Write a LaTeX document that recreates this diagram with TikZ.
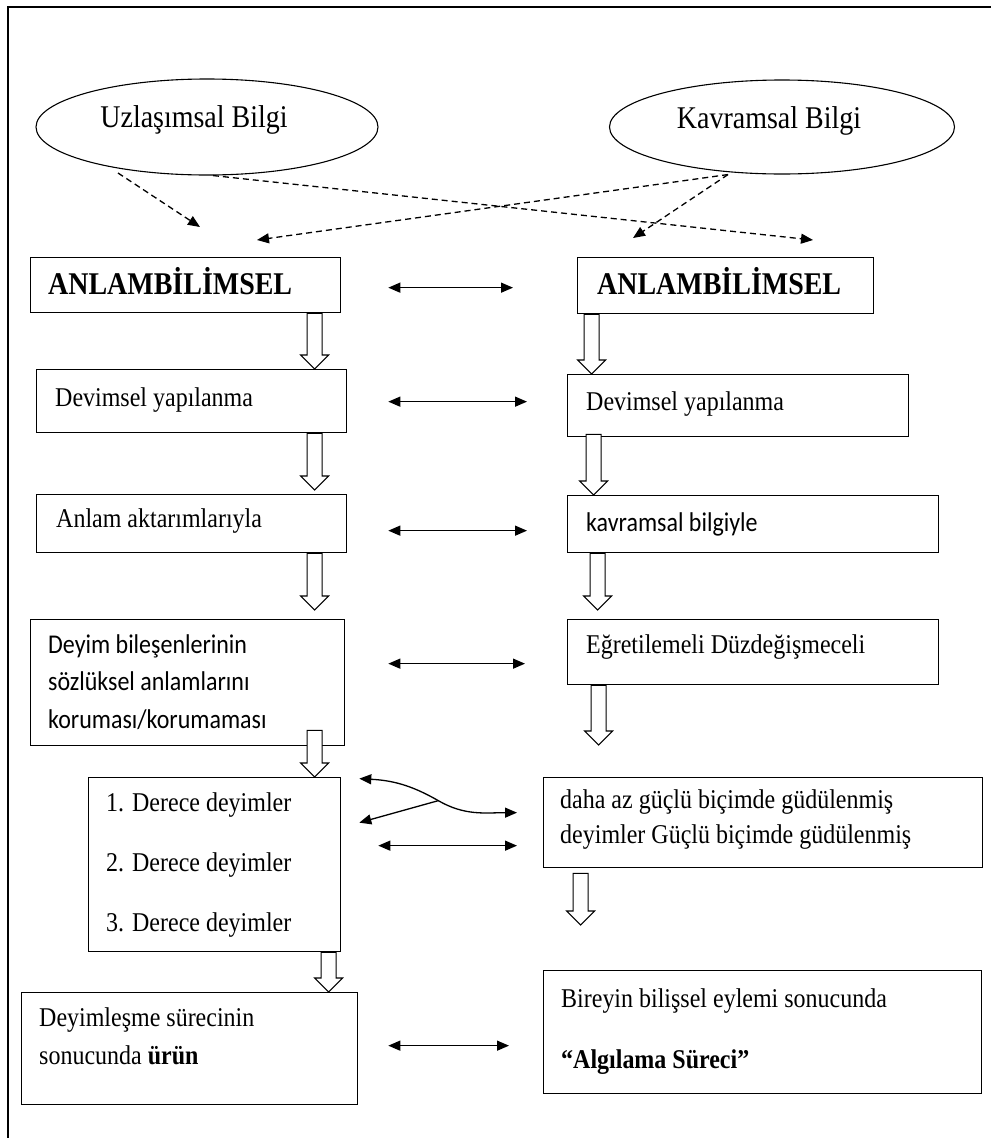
\documentclass[tikz,border=0pt]{standalone}
\usepackage{fontspec}
\setmainfont{Liberation Serif}[FakeStretch=0.885]
\newfontfamily\calib{Carlito}[FakeStretch=0.885]
\usetikzlibrary{shapes.geometric,arrows.meta,calc}
\tikzset{
  box/.style={draw, line width=1.3pt, inner sep=0pt, anchor=north west},
  oval/.style={draw, ellipse, line width=1.1pt, inner sep=0pt},
  txt/.style={anchor=base west, inner sep=0pt, font=\fontsize{27.1}{32}\selectfont},
  stxt/.style={anchor=base west, inner sep=0pt, font=\calib\fontsize{27.1}{32}\selectfont},
  btxt/.style={anchor=base west, inner sep=0pt, font=\bfseries\fontsize{31.6}{36}\selectfont},
  otxt/.style={anchor=base, inner sep=0pt, font=\fontsize{31.6}{36}\selectfont},
  hollowst/.style={draw, fill=white, line width=1.1pt},
  dbl/.style={line width=1.3pt, {Triangle[length=12pt,width=10pt]}-{Triangle[length=12pt,width=10pt]}},
  dsh/.style={line width=1.3pt, dash pattern=on 6pt off 4pt, -{Triangle[length=12pt,width=10pt]}},
  one/.style={line width=1.3pt, -{Triangle[length=12pt,width=10pt]}}
}
\newcommand\hollowarr[2]{\path[hollowst] let \p1=#1, \p2=#2 in
  (\x1-7.5pt,\y1) -- (\x1-7.5pt,\y2+14pt) -- (\x1-14pt,\y2+14pt) -- (\x1,\y2)
  -- (\x1+14pt,\y2+14pt) -- (\x1+7.5pt,\y2+14pt) -- (\x1+7.5pt,\y1) -- cycle;}
\begin{document}
\begin{tikzpicture}[x=1pt,y=-1pt]
\useasboundingbox (0,0) rectangle (991,1138);
\draw[line width=1.5pt] (8,1138) -- (8,7) -- (991,7);

% ellipses
\node[oval, minimum width=342pt, minimum height=96pt] (U) at (207,127) {};
\node[otxt] (Ut) at (194,127) {Uzlaşımsal Bilgi};
\node[oval, minimum width=345pt, minimum height=94pt] (K) at (782,127) {};
\node[otxt] (Kt) at (769,128) {Kavramsal Bilgi};

% left column boxes
\node[box, minimum width=310pt, minimum height=55pt] (L1) at (30,257) {};
\node[btxt] (L1t) at (48,294) {ANLAMBİLİMSEL};
\node[box, minimum width=310pt, minimum height=63pt] (L2) at (36,369) {};
\node[txt] (L2t) at (55,406) {Devimsel yapılanma};
\node[box, minimum width=310pt, minimum height=58pt] (L3) at (36,494) {};
\node[txt] (L3t) at (56,527) {Anlam aktarımlarıyla};
\node[box, minimum width=314pt, minimum height=126pt] (L4) at (30,619) {};
\node[stxt] (L4a) at (48,653) {Deyim bileşenlerinin};
\node[stxt] (L4b) at (48,690) {sözlüksel anlamlarını};
\node[stxt] (L4c) at (48,728) {koruması/korumaması};
\node[box, minimum width=252pt, minimum height=174pt] (L5) at (88,777) {};
\node[txt] (L5a) at (106,811) {1. Derece deyimler};
\node[txt] (L5b) at (106,871) {2. Derece deyimler};
\node[txt] (L5c) at (106,931) {3. Derece deyimler};
\node[box, minimum width=336pt, minimum height=112pt] (L6) at (21,992) {};
\node[txt] (L6a) at (39,1026) {Deyimleşme sürecinin};
\node[txt] (L6b) at (39,1064) {sonucunda \textbf{ürün}};

% right column boxes
\node[box, minimum width=296pt, minimum height=56pt] (R1) at (577,257) {};
\node[btxt] (R1t) at (597,294) {ANLAMBİLİMSEL};
\node[box, minimum width=341pt, minimum height=62pt] (R2) at (567,374) {};
\node[txt] (R2t) at (586,410) {Devimsel yapılanma};
\node[box, minimum width=371pt, minimum height=57pt] (R3) at (567,495) {};
\node[stxt] (R3t) at (586,531) {kavramsal bilgiyle};
\node[box, minimum width=371pt, minimum height=65pt] (R4) at (567,619) {};
\node[txt] (R4t) at (586,653) {Eğretilemeli Düzdeğişmeceli};
\node[box, minimum width=439pt, minimum height=90pt] (R5) at (543,777) {};
\node[txt] (R5a) at (560,808) {daha az güçlü biçimde güdülenmiş};
\node[txt] (R5b) at (560,843) {deyimler Güçlü biçimde güdülenmiş};
\node[box, minimum width=438pt, minimum height=123pt] (R6) at (543,970) {};
\node[txt] (R6a) at (561,1007) {Bireyin bilişsel eylemi sonucunda};
\node[txt] (R6b) at (561,1068) {\textbf{“Algılama Süreci”}};

% dashed arrows from ellipses
\draw[dsh] ($(U.center)+(-89,46)$) -- ($(L1.north west)+(170,-30)$);
\draw[dsh] ($(U.south)+(6,0)$) -- ($(R1.north west)+(236,-17)$);
\draw[dsh] ($(K.south)+(-54,0)$) -- ($(L1.north west)+(227,-17)$);
\draw[dsh] ($(K.south)+(-54,0)$) -- ($(R1.north west)+(56,-19)$);

% hollow arrows left
\hollowarr{($(L1.south)+(129,0)$)}{(L2.north)}
\hollowarr{($(L2.south)+(123,0)$)}{($(L3.north)+(0,-4)$)}
\hollowarr{($(L3.south)+(123,0)$)}{($(L4.north)+(0,-9)$)}
\hollowarr{($(L4.south)+(127,-16)$)}{(L5.north)}
\hollowarr{($(L5.south)+(114,0)$)}{(L6.north)}
% hollow arrows right
\hollowarr{($(R1.south)+(-134,0)$)}{(R2.north)}
\hollowarr{($(R2.south)+(-144.5,-3)$)}{(R3.north)}
\hollowarr{($(R3.south)+(-155.5,0)$)}{($(R4.north)+(0,-9)$)}
\hollowarr{($(R4.south)+(-154.5,0)$)}{($(R5.north)+(0,-32)$)}
\hollowarr{($(R5.south)+(-182.5,5)$)}{($(R6.north)+(0,-45)$)}

% double arrows
\draw[dbl] ($(L1.east)+(47,2.5)$) -- ($(R1.west)+(-64,2)$);
\draw[dbl] ($(L2.east)+(41,0.5)$) -- ($(R2.west)+(-40,-4)$);
\draw[dbl] ($(L3.east)+(41,7)$) -- ($(R3.west)+(-40,6.5)$);
\draw[dbl] ($(L4.east)+(43,-19)$) -- ($(R4.west)+(-42,11.5)$);
\draw[dbl] ($(L5.east)+(37,-19)$) -- ($(R5.west)+(-26,23)$);
\draw[dbl] ($(L6.east)+(30,-3)$) -- ($(R6.west)+(-34,13.5)$);

% forked curved arrow
\coordinate (cu) at ($(L5.east)+(18,-86)$);
\coordinate (cl) at ($(L5.east)+(18,-42)$);
\coordinate (cr) at ($(R5.west)+(-26,-10)$);
\coordinate (j) at ($(L5.east)+(97,-64)$);
\draw[dbl] (cu) to[out=-3,in=150] (j) to[out=-30,in=180] (cr);
\draw[one] (j) -- (cl);
\end{tikzpicture}
\end{document}
